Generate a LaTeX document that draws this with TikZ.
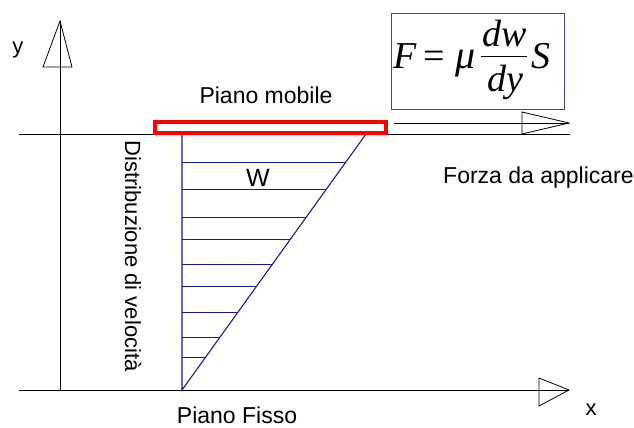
\documentclass[tikz,border=0pt]{standalone}
\usepackage{fontspec}
\setmainfont{Liberation Sans}
\newfontfamily\tms{Liberation Serif}
\definecolor{prof}{HTML}{1A1A8A}
\definecolor{boxc}{HTML}{4444A8}
\begin{document}
\begin{tikzpicture}[x=1pt,y=-1pt,
  axis/.style={line width=0.9pt,black},
  tip/.style={line width=0.8pt,black,fill=white},
  profile/.style={line width=1.1pt,prof},
  hatch/.style={line width=0.9pt,prof},
  lbl/.style={font=\fontsize{23}{26}\selectfont,inner sep=0pt},
  frm/.style={font=\fontsize{38}{40}\selectfont\tms,inner sep=0pt}]
\useasboundingbox (0,0) rectangle (634,428);
% named points
\coordinate (yb) at (60,390);
\coordinate (yt) at (60,21);
\coordinate (xl) at (19,390);
\coordinate (xr) at (569,390);
\coordinate (tl) at (19,134);
\coordinate (tr) at (570,134);
\coordinate (o) at (182,390);
\coordinate (ot) at (182,134);
\coordinate (d) at (366,134);
\coordinate (fl) at (394,123);
\coordinate (fr) at (569,123);
% axes
\draw[tip] (43,67) -- (yt) -- (72,67) -- cycle;
\draw[tip] (539,378) -- (xr) -- (539,406) -- cycle;
\draw[axis] (yb) -- (yt);
\draw[axis] (xl) -- (xr);
\draw[axis] (tl) -- (tr);
% force arrow
\draw[tip] (522,112) -- (fr) -- (522,134) -- cycle;
\draw[axis] (fl) -- (fr);
% hatch lines
\foreach \yy in {162,189,217,239,264,286,312,337,357}{
  \pgfmathsetmacro{\xe}{182+(390-\yy)/256*184}
  \draw[hatch] (182,\yy) -- (\xe,\yy);
}
% profile
\draw[profile] (ot) -- (o) -- (d);
% moving plate
\draw[red,line width=3.6pt] (155,122) rectangle (386,133);
% formula box
\draw[boxc,line width=0.9pt] (391,13) rectangle (564,109);
\node[frm,anchor=base west] (F) at (393,68) {\itshape F};
\node[frm,anchor=base] (eq) at (434,68) {=};
\node[frm,anchor=base west,font=\fontsize{40}{42}\selectfont\tms] (mu) at (455,68) {\itshape μ};
\node[frm,anchor=base] (num) at (505,47) {\itshape dw};
\node[frm,anchor=base] (den) at (505,91) {\itshape dy};
\draw[line width=1pt] (481,57) -- (527,57);
\node[frm,anchor=base west] (S) at (531,68) {\itshape S};
% labels
\node[lbl,font=\fontsize{22}{24}\selectfont] (ylab) at (18,50) {y};
\node[lbl,font=\fontsize{22}{24}\selectfont] (xlab) at (591,410) {x};
\node[lbl,anchor=base] (pm) at (266,103) {Piano mobile};
\node[lbl,anchor=base] (pf) at (237,423) {Piano Fisso};
\node[lbl,anchor=base west] (fa) at (443,183) {Forza da applicare};
\node[lbl,font=\fontsize{25}{28}\selectfont] (w) at (258,178) {W};
\node[lbl,anchor=base,rotate=-90,font=\fontsize{22}{24}\selectfont] (dv) at (125,256) {Distribuzione di velocità};
\end{tikzpicture}
\end{document}
